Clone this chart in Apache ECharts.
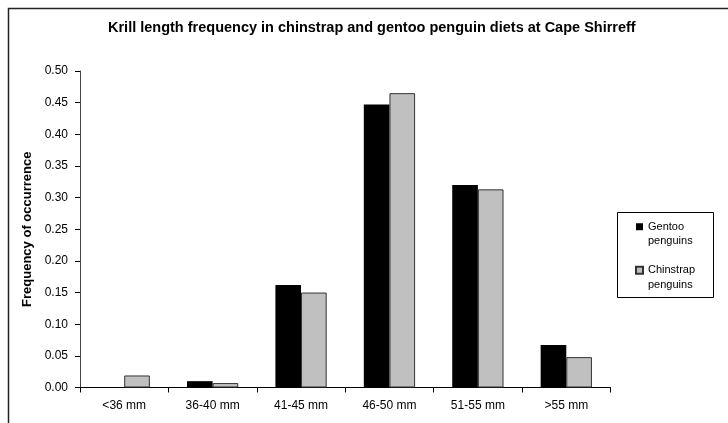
<!DOCTYPE html>
<html>
<head>
<meta charset="utf-8">
<script src="https://cdn.jsdelivr.net/npm/echarts@6/dist/echarts.min.js"></script>
<style>
html,body{margin:0;padding:0;background:#fff;}
#chart{width:728px;height:423px;}
</style>
</head>
<body>
<div id="chart"></div>
<script>
const titleText = 'Krill length frequency in chinstrap and gentoo penguin diets at Cape Shirreff';
const yAxisName = 'Frequency of occurrence';
const categories = ['<36 mm', '36-40 mm', '41-45 mm', '46-50 mm', '51-55 mm', '>55 mm'];
const gentooName = 'Gentoo\npenguins';
const chinstrapName = 'Chinstrap\npenguins';
const gentoo = [0, 0.010, 0.162, 0.447, 0.320, 0.067];
const chinstrap = [0.019, 0.007, 0.150, 0.465, 0.313, 0.048];

const FONT = "'Liberation Sans', Arial, sans-serif";
const chart = echarts.init(document.getElementById('chart'), null, {renderer: 'canvas'});
chart.setOption({
  backgroundColor: '#fff',
  animation: false,
  textStyle: {fontFamily: FONT, color: '#000'},
  title: {
    text: titleText,
    left: 108,
    top: 20,
    padding: 0,
    textStyle: {fontFamily: FONT, fontSize: 14.5, fontWeight: 'bold', color: '#000'}
  },
  graphic: [
    {type: 'rect', silent: true, z: -1,
     shape: {x: 8.5, y: 8.5, width: 800, height: 500},
     style: {fill: 'none', stroke: '#222', lineWidth: 1.5}},
    {type: 'rect', silent: true, z: -1,
     shape: {x: 617.5, y: 212.5, width: 96, height: 85},
     style: {fill: '#fff', stroke: '#000', lineWidth: 1}}
  ],
  legend: {
    orient: 'vertical',
    left: 635,
    top: 205,
    padding: 0,
    itemGap: 0,
    itemWidth: 7,
    itemHeight: 7,
    icon: 'rect',
    formatter: name => ' \n' + name,
    textStyle: {fontFamily: FONT, fontSize: 11, color: '#000', lineHeight: 14.5},
    data: [gentooName, chinstrapName]
  },
  grid: {left: 80, right: 117.5, top: 71, bottom: 35.5, containLabel: false},
  xAxis: {
    type: 'category',
    data: categories,
    axisLine: {lineStyle: {color: '#000', width: 1}},
    axisTick: {show: true, length: 5, lineStyle: {color: '#000'}},
    axisLabel: {fontFamily: FONT, fontSize: 12, color: '#000', margin: 12}
  },
  yAxis: {
    type: 'value',
    min: 0,
    max: 0.5,
    interval: 0.05,
    name: yAxisName,
    nameLocation: 'middle',
    nameGap: 45,
    nameTextStyle: {fontFamily: FONT, fontSize: 13, fontWeight: 'bold', color: '#000'},
    axisLine: {show: true, lineStyle: {color: '#444', width: 1}},
    axisTick: {show: true, length: 5, lineStyle: {color: '#000'}},
    splitLine: {show: false},
    axisLabel: {fontFamily: FONT, fontSize: 12, color: '#000', margin: 12,
      formatter: v => v.toFixed(2)}
  },
  series: [
    {name: gentooName, type: 'bar', data: gentoo, barGap: '0%', barCategoryGap: '42%',
     itemStyle: {color: '#000', borderWidth: 0}},
    {name: chinstrapName, type: 'bar', data: chinstrap, barGap: '0%', barCategoryGap: '42%',
     itemStyle: {color: '#c0c0c0', borderColor: '#333', borderWidth: 1}}
  ]
});
</script>
</body>
</html>
